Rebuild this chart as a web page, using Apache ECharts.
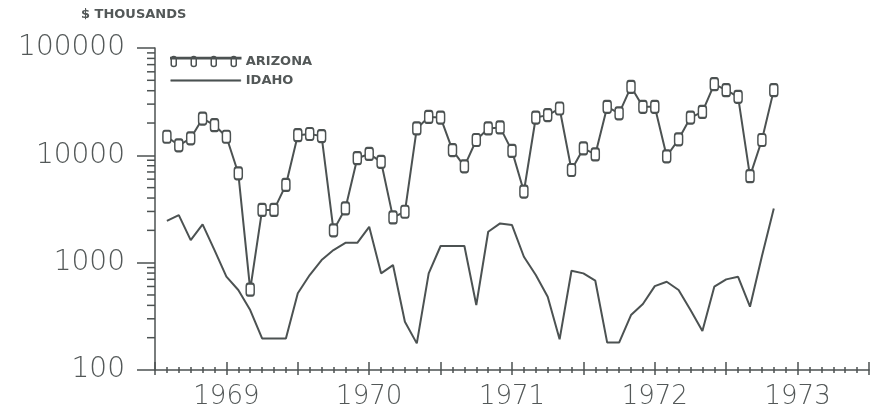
<!DOCTYPE html>
<html>
<head>
<meta charset="utf-8">
<script src="https://cdn.jsdelivr.net/npm/echarts@6/dist/echarts.min.js"></script>
<style>
html,body{margin:0;padding:0;background:#fff;}
#chart{width:873px;height:416px;}
</style>
</head>
<body>
<div id="chart"></div>
<script>
// Monthly data, Feb 1969 .. May 1973 (x = months since Jan 1969)
var firstMonth = 1;
var yearLabels = ['1969', '1970', '1971', '1972', '1973'];
var yTickLabels = [100, 1000, 10000, 100000];
var arizona = [14900, 12400, 14400, 22000, 19100, 14900, 6800, 560, 3100, 3100, 5300, 15400,
  15800, 15100, 2000, 3200, 9400, 10300, 8700, 2640, 2980, 17800, 22800, 22500,
  11200, 7900, 13900, 17800, 18200, 11000, 4600, 22500, 23700, 27300, 7300, 11600,
  10200, 28300, 24600, 43500, 28300, 28300, 9800, 14100, 22500, 25400, 46000, 40500,
  35100, 6400, 13900, 40500];
var idaho = [2455, 2775, 1620, 2275, 1310, 740, 556, 362, 197, 197, 197, 518,
  767, 1057, 1310, 1530, 1530, 2157, 795, 950, 282, 177, 795, 1430,
  1430, 1430, 403, 1940, 2320, 2240, 1135, 767, 482, 193, 840, 795,
  679, 180, 180, 325, 412, 605, 664, 556, 362, 231, 597, 699,
  739, 389, 1150, 3200];
var minorTickValues = [200, 300, 400, 500, 600, 700, 800, 900,
  2000, 3000, 4000, 5000, 6000, 7000, 8000, 9000,
  20000, 30000, 40000, 50000, 60000, 70000, 80000, 90000];

var INK = '#4c5252';
var TXT = '#535858';

function pairs(vals) {
  return vals.map(function (v, i) { return [firstMonth + i, v]; });
}

var azIcon = 'path://M0 2 L70 2 L70 3.2 L0 3.2 Z' +
  [3, 23, 43, 63].map(function (c) {
    var l = c - 2.5, r = c + 2.5;
    return ' M' + l + ' 3 L' + l + ' 9 Q' + l + ' 11 ' + c + ' 11 Q' + r + ' 11 ' + r + ' 9 L' + r + ' 3 Q' + r + ' 1 ' + c + ' 1 Q' + l + ' 1 ' + l + ' 3 Z';
  }).join('');
var idIcon = 'path://M0 0 L70 0 L70 1.6 L0 1.6 Z';

var chart = echarts.init(document.getElementById('chart'), null, {renderer: 'canvas'});
var option = {
  animation: false,
  backgroundColor: '#fff',
  title: {
    text: '$ THOUSANDS', left: 81, top: 8, padding: 0,
    textStyle: {fontSize: 13, fontWeight: 'bold', color: TXT, fontFamily: 'DejaVu Sans'}
  },
  legend: {
    orient: 'vertical', left: 170, top: 55, padding: 0,
    itemWidth: 70, itemHeight: 12, itemGap: 6,
    textStyle: {fontSize: 13, fontWeight: 'bold', color: TXT, fontFamily: 'DejaVu Sans'},
    data: [
      {name: 'ARIZONA', icon: azIcon, itemStyle: {color: 'rgba(0,0,0,0)', borderColor: INK, borderWidth: 1.5}},
      {name: 'IDAHO', icon: idIcon, itemStyle: {color: INK, borderColor: INK, borderWidth: 0.5}}
    ]
  },
  grid: {left: 155, right: 4, top: 48, bottom: 46, containLabel: false},
  xAxis: [{
    type: 'value', min: 0, max: 60, interval: 6, position: 'bottom',
    axisLine: {show: true, lineStyle: {color: INK, width: 1.5}},
    axisTick: {show: true, inside: false, length: 5, lineStyle: {color: INK, width: 1.5}},
    minorTick: {show: true, splitNumber: 6, length: 3, lineStyle: {color: INK, width: 1.5}},
    splitLine: {show: false},
    axisLabel: {
      margin: 14, fontSize: 26, color: TXT, fontFamily: 'DejaVu Sans', fontWeight: 200,
      formatter: function (v) {
        var m = Math.round(v);
        if (m % 12 !== 6) return '';
        return yearLabels[(m - 6) / 12] || '';
      }
    }
  }, {
    type: 'value', min: 0, max: 60, interval: 6, position: 'bottom',
    axisLine: {show: false},
    axisTick: {show: true, inside: true, length: 8, lineStyle: {color: INK, width: 1.5}},
    minorTick: {show: true, splitNumber: 6, length: 3, lineStyle: {color: INK, width: 1.5}},
    splitLine: {show: false},
    axisLabel: {show: false}
  }],
  yAxis: {
    type: 'log', logBase: 10, min: 100, max: 100000,
    axisLine: {show: true, lineStyle: {color: INK, width: 1.5}},
    axisTick: {show: true, inside: false, length: 18, lineStyle: {color: INK, width: 1.5}},
    splitLine: {show: false},
    axisLabel: {
      margin: 30, fontSize: 28, color: TXT, fontFamily: 'DejaVu Sans', fontWeight: 200,
      formatter: function (v) {
        var r = Math.round(v);
        return yTickLabels.indexOf(r) >= 0 ? String(r) : '';
      }
    }
  },
  series: [{
    name: 'ARIZONA', type: 'line', data: pairs(arizona),
    symbol: 'roundRect', symbolSize: [8, 12],
    itemStyle: {color: '#fff', borderColor: INK, borderWidth: 1.8},
    lineStyle: {color: INK, width: 2},
    z: 3
  }, {
    name: 'IDAHO', type: 'line', data: pairs(idaho),
    symbol: 'none', showSymbol: false,
    itemStyle: {color: INK},
    lineStyle: {color: INK, width: 2},
    z: 2
  }, {
    name: 'yMinorTicks', type: 'custom', silent: true,
    data: minorTickValues.map(function (v) { return [0, v]; }),
    clip: false,
    renderItem: function (params, api) {
      var p = api.coord([0, api.value(1)]);
      return {
        type: 'line',
        shape: {x1: p[0] - 8, y1: p[1], x2: p[0], y2: p[1]},
        style: {stroke: INK, lineWidth: 1.5}
      };
    }
  }]
};
chart.setOption(option);
</script>
</body>
</html>
